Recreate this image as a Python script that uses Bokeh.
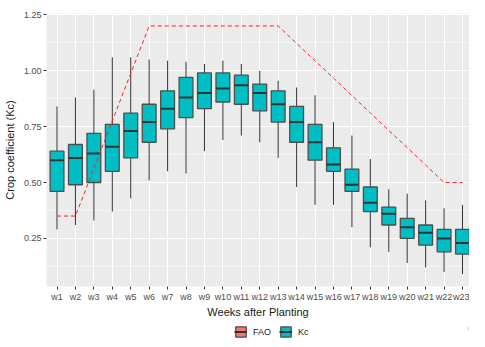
from bokeh.plotting import figure
from bokeh.layouts import column
from bokeh.models import (Range1d, FixedTicker, NumeralTickFormatter, ColumnDataSource,
                          Legend, LegendItem)
from bokeh.transform import dodge
from bokeh.embed import file_html
from bokeh.resources import INLINE

weeks = ["w1", "w2", "w3", "w4", "w5", "w6", "w7", "w8", "w9", "w10", "w11", "w12",
         "w13", "w14", "w15", "w16", "w17", "w18", "w19", "w20", "w21", "w22", "w23"]
kc_low = [0.29, 0.31, 0.33, 0.37, 0.43, 0.51, 0.55, 0.54, 0.64, 0.69, 0.71, 0.68,
          0.61, 0.48, 0.40, 0.40, 0.30, 0.21, 0.19, 0.14, 0.12, 0.10, 0.09]
kc_q1 = [0.46, 0.49, 0.50, 0.55, 0.61, 0.68, 0.74, 0.79, 0.83, 0.86, 0.85, 0.82,
         0.77, 0.68, 0.60, 0.55, 0.46, 0.37, 0.31, 0.25, 0.22, 0.19, 0.18]
kc_med = [0.60, 0.61, 0.63, 0.66, 0.73, 0.77, 0.83, 0.88, 0.90, 0.92, 0.935, 0.90,
          0.85, 0.77, 0.68, 0.58, 0.49, 0.41, 0.36, 0.30, 0.275, 0.25, 0.23]
kc_q3 = [0.64, 0.67, 0.72, 0.76, 0.81, 0.85, 0.91, 0.97, 0.99, 0.99, 0.98, 0.94,
         0.91, 0.84, 0.76, 0.655, 0.56, 0.48, 0.39, 0.34, 0.31, 0.29, 0.29]
kc_high = [0.84, 0.88, 0.915, 1.06, 1.06, 1.05, 1.045, 1.04, 1.03, 1.045, 1.03, 1.00,
           0.955, 0.925, 0.89, 0.77, 0.71, 0.605, 0.47, 0.45, 0.42, 0.385, 0.40]
fao = [0.35, 0.35, 0.5625, 0.775, 0.9875, 1.2, 1.2, 1.2, 1.2, 1.2, 1.2, 1.2,
       1.2, 1.122, 1.044, 0.967, 0.889, 0.811, 0.733, 0.656, 0.578, 0.5, 0.5]
y_ticks = [0.25, 0.50, 0.75, 1.00, 1.25]
y_minor = [0.125, 0.375, 0.625, 0.875, 1.125]
legend_labels = ["FAO", "Kc"]
legend_colors = ["#F8766D", "#00BFC4"]

xs = list(range(1, len(weeks) + 1))
src = ColumnDataSource(dict(x=xs, low=kc_low, q1=kc_q1, med=kc_med, q3=kc_q3, high=kc_high))

FONT = "Liberation Sans"

p = figure(width=469, height=320, output_backend="svg", toolbar_location=None, title=None,
           x_range=Range1d(0.43, 23.38), y_range=Range1d(0.035, 1.2557),
           min_border_left=43, min_border_right=0, min_border_top=13, min_border_bottom=30)
p.background_fill_color = "#EBEBEB"
p.border_fill_color = "white"
p.outline_line_color = None

p.xaxis.ticker = FixedTicker(ticks=xs)
p.xaxis.major_label_overrides = {x: w for x, w in zip(xs, weeks)}
p.yaxis.ticker = FixedTicker(ticks=y_ticks, minor_ticks=y_minor)
p.yaxis.formatter = NumeralTickFormatter(format="0.00")

for ax in (p.xaxis[0], p.yaxis[0]):
    ax.axis_line_color = None
    ax.major_tick_out = 3
    ax.major_tick_in = 0
    ax.minor_tick_out = 0
    ax.minor_tick_in = 0
    ax.major_tick_line_color = "#333333"
    ax.major_label_text_font = FONT
    ax.major_label_text_font_size = "9px"
    ax.major_label_text_color = "#4D4D4D"
    ax.major_label_standoff = 2
    ax.axis_label_text_font = FONT
    ax.axis_label_text_font_size = "11px"
    ax.axis_label_text_font_style = "normal"
    ax.axis_label_text_color = "#1A1A1A"

p.xaxis.axis_label = "Weeks after Planting"
p.yaxis.axis_label = "Crop coefficient (Kc)"
p.xaxis.axis_label_standoff = 1
p.yaxis.axis_label_standoff = 5

p.xgrid.grid_line_color = "white"
p.xgrid.grid_line_width = 1.1
p.ygrid.grid_line_color = "white"
p.ygrid.grid_line_width = 1.1
p.ygrid.minor_grid_line_color = "white"
p.ygrid.minor_grid_line_width = 0.5

# whiskers
p.segment(x0="x", y0="q3", x1="x", y1="high", source=src, line_color="#333333", line_width=1)
p.segment(x0="x", y0="low", x1="x", y1="q1", source=src, line_color="#333333", line_width=1)
# boxes
p.vbar(x="x", width=0.75, bottom="q1", top="q3", source=src,
       fill_color="#00BFC4", line_color="#4D4D4D", line_width=1.3)
p.segment(x0=dodge("x", -0.375), y0="med", x1=dodge("x", 0.375), y1="med",
          source=src, line_color="#333333", line_width=2)

# FAO reference line
p.line(xs, fao, line_color="#FF2020", line_dash="4 3", line_width=1)

# ---- legend strip below the plot ----
lg = figure(width=469, height=18, output_backend="svg", toolbar_location=None, title=None,
            x_range=Range1d(0, 1), y_range=Range1d(0, 1),
            x_axis_location=None, y_axis_location=None,
            min_border_left=0, min_border_right=0, min_border_top=0, min_border_bottom=0)
lg.outline_line_color = None
lg.grid.visible = False
lg.background_fill_color = "white"
lg.border_fill_color = "white"

items = []
for lab, col in zip(legend_labels, legend_colors):
    ks = ColumnDataSource(dict(x=[50], q1=[kc_q1[0]], q3=[kc_q3[0]], med=[kc_med[0]]))
    rb = lg.vbar(x="x", width=0.75, bottom="q1", top="q3", source=ks,
                 fill_color=col, line_color="#4D4D4D", line_width=1.3)
    rm = lg.segment(x0=dodge("x", -0.375), y0="med", x1=dodge("x", 0.375), y1="med",
                    source=ks, line_color="#333333", line_width=2)
    items.append(LegendItem(label=lab, renderers=[rb, rm]))

legend = Legend(items=items, orientation="horizontal", location=(188, 0),
                glyph_width=13, glyph_height=13, label_height=13, label_width=10,
                label_standoff=6, spacing=8, padding=2, margin=0,
                border_line_color=None, background_fill_alpha=0,
                label_text_font=FONT, label_text_font_size="9px",
                label_text_color="#1A1A1A")
lg.add_layout(legend)

layout = column(p, lg, spacing=0)
open("out.html", "w").write(file_html(layout, INLINE))
